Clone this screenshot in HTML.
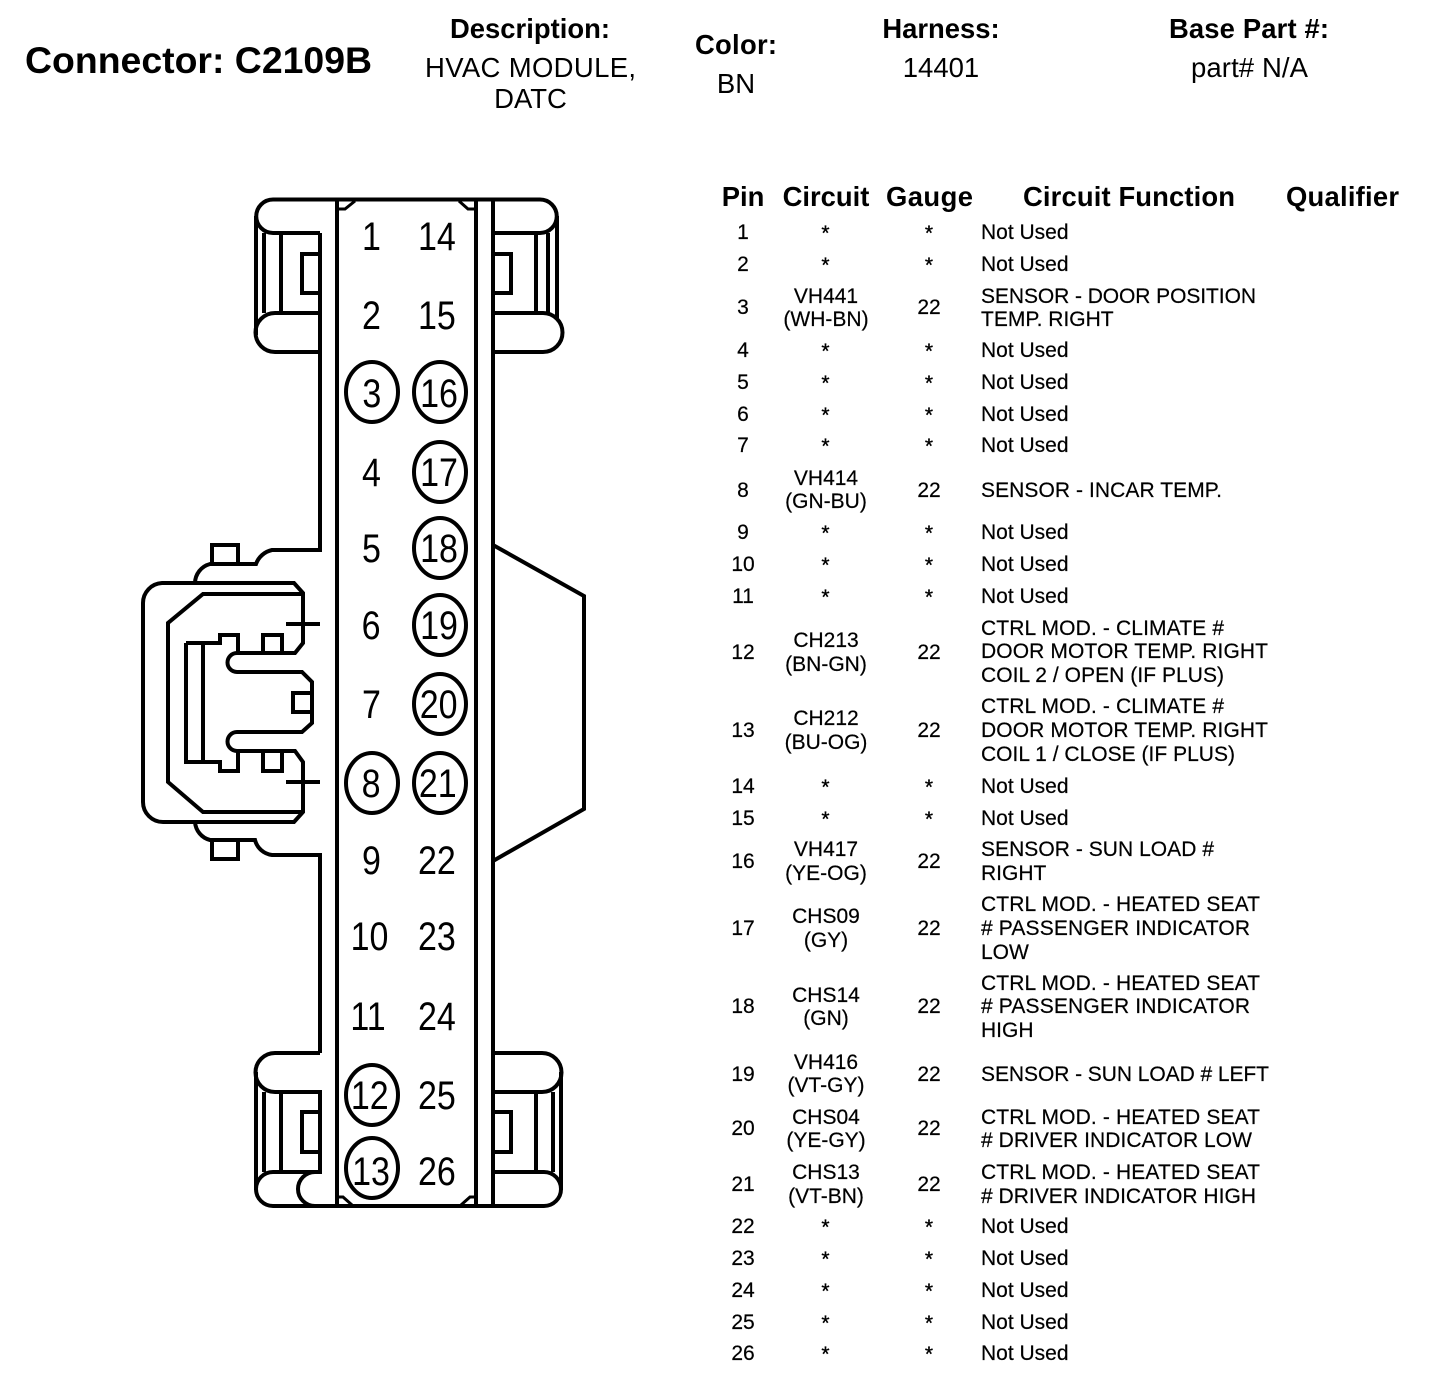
<!DOCTYPE html>
<html lang="en"><head><meta charset="utf-8"><title>Connector C2109B</title>
<style>
html,body{margin:0;padding:0;background:#fff}
svg{display:block}
text{font-family:"Liberation Sans",sans-serif;fill:#000}
.b{font-weight:bold;font-size:27.4px}
.t{font-size:27.5px}
.c{text-anchor:middle}
.r{font-size:21px;stroke:#000;stroke-width:.2}
.a{font-size:21px;text-anchor:middle;stroke:#000;stroke-width:.3}
.d{font-size:40px;text-anchor:middle}
.l{fill:none;stroke:#000;stroke-width:4}
.f{fill:#fff;stroke:#000;stroke-width:4}
</style></head><body>
<svg xmlns="http://www.w3.org/2000/svg" width="1440" height="1384" viewBox="0 0 1440 1384">
<rect width="1440" height="1384" fill="#fff"/>
<text x="25" y="73" font-weight="bold" font-size="37.4" textLength="347">Connector: C2109B</text>
<text x="530" y="38" class="b c" textLength="160">Description:</text>
<text x="530.5" y="77" class="t c" textLength="211">HVAC MODULE,</text>
<text x="530.5" y="108" class="t c">DATC</text>
<text x="736" y="54" class="b c" textLength="82">Color:</text>
<text x="736" y="93" class="t c">BN</text>
<text x="941" y="38" class="b c">Harness:</text>
<text x="941" y="77" class="t c">14401</text>
<text x="1249" y="38" class="b c" textLength="160">Base Part #:</text>
<text x="1249.5" y="77" class="t c" textLength="117">part# N/A</text>

<g>
<path class="l" d="M273 199.5H540A16.75 16.75 0 0 1 540 233H493"/>
<path class="l" d="M320 233H273A16.75 16.75 0 0 1 273 199.5"/>
<path class="l" d="M256 216V335M264 233V313M281 233V313"/>
<path class="l" d="M320 313H275A19.5 19.5 0 0 0 275 352H320"/>
<path class="l" d="M320 254H302V293H320"/>
<path class="l" d="M320 233V550H272A22 22 0 0 0 256 564H210A20 20 0 0 0 195 583"/>
<path class="l" d="M212 564V545H238V564"/>
<path class="l" d="M320 1053V855H272A20 20 0 0 1 255 840H210A20 20 0 0 1 195 822"/>
<path class="l" d="M212 840V859H238V840"/>
<path class="l" d="M162 583H294L303 593V643L295 653H237A9.5 9.5 0 0 0 237 672H302L312 682V723L302 732H237A9.5 9.5 0 0 0 237 751H295L303 762V812L294 822H163A20 20 0 0 1 143 802V603A20 20 0 0 1 162 583Z"/>
<path class="l" d="M303 594H203L168 623V782L203 812H303"/>
<path class="l" d="M186 643H220V635H238V652M186 643V762H220V771H238V751M203 643V762"/>
<path class="l" d="M263 652V635H282V652M263 751V771H282V751"/>
<path class="l" d="M311 693H293V712H311"/>
<path class="l" d="M286 624H320M286 782H320"/>
<path class="l" d="M337 199V1206M476 199V1206M493 199V1206"/>
<path class="l" d="M493 313H543A19.5 19.5 0 0 1 543 352H493"/>
<path class="l" d="M557 216V318M536 233V313M548 233V313"/>
<path class="l" d="M493 254H511V293H493"/>
<path class="l" d="M493 545L584 596V809L493 861"/>
<path class="l" d="M320 1053H275A19.5 19.5 0 0 0 275 1092H320V1172H273A17 17 0 0 0 273 1206H544A17 17 0 0 0 544 1172H493"/>
<path class="l" d="M256 1072V1190M264 1092V1172M281 1092V1172"/>
<path class="l" d="M320 1112H302V1152H320"/>
<path class="l" d="M315 1172A17 17 0 0 0 315 1206"/>
<path class="l" d="M493 1053H542A19.5 19.5 0 0 1 542 1092H493"/>
<path class="l" d="M561 1072V1190M536 1092V1172M553 1092V1172"/>
<path class="l" d="M493 1112H511V1152H493"/>
<path class="l" style="stroke-width:3" d="M337 209H345L355 201M476 209H468L459 201M337 1197H343L352 1205M476 1197H470L461 1205"/>
</g>

<ellipse class="f" cx="372" cy="392" rx="26" ry="30"/>
<ellipse class="f" cx="440" cy="392" rx="26" ry="30"/>
<ellipse class="f" cx="440" cy="472" rx="26" ry="30"/>
<ellipse class="f" cx="440" cy="548" rx="26" ry="30"/>
<ellipse class="f" cx="440" cy="625" rx="26" ry="30"/>
<ellipse class="f" cx="440" cy="704" rx="26" ry="30"/>
<ellipse class="f" cx="440" cy="783" rx="26" ry="30"/>
<ellipse class="f" cx="372" cy="783" rx="26" ry="30"/>
<ellipse class="f" cx="372" cy="1095" rx="26" ry="30"/>
<ellipse class="f" cx="372" cy="1168" rx="26" ry="30"/>

<g transform="scale(.85 1)">
<text class="d" x="437" y="250">1</text>
<text class="d" x="437" y="329">2</text>
<text class="d" x="437.5" y="407">3</text>
<text class="d" x="437" y="486">4</text>
<text class="d" x="437" y="562">5</text>
<text class="d" x="436.5" y="639">6</text>
<text class="d" x="437" y="718">7</text>
<text class="d" x="436.5" y="797">8</text>
<text class="d" x="437" y="874">9</text>
<text class="d" x="434.7" y="950">10</text>
<text class="d" x="433" y="1030">11</text>
<text class="d" x="435" y="1109">12</text>
<text class="d" x="436.5" y="1185">13</text>
<text class="d" x="514" y="250">14</text>
<text class="d" x="514" y="329">15</text>
<text class="d" x="516.5" y="407">16</text>
<text class="d" x="516.5" y="486">17</text>
<text class="d" x="516.5" y="562">18</text>
<text class="d" x="516.5" y="639">19</text>
<text class="d" x="516" y="718">20</text>
<text class="d" x="515" y="797">21</text>
<text class="d" x="514" y="874">22</text>
<text class="d" x="514" y="950">23</text>
<text class="d" x="514" y="1030">24</text>
<text class="d" x="514" y="1109">25</text>
<text class="d" x="514" y="1185">26</text>
</g>

<text x="743" y="206" class="b c">Pin</text>
<text x="826" y="206" class="b c">Circuit</text>
<text x="929.5" y="206" class="b c" textLength="87">Gauge</text>
<text x="1129" y="206" class="b c" textLength="212">Circuit Function</text>
<text x="1342.5" y="206" class="b c" textLength="113">Qualifier</text>

<g>
<text class="r c" x="743" y="239">1</text><text class="a" x="825.5" y="240">*</text><text class="a" x="929" y="240">*</text><text class="r" x="981" y="239">Not Used</text>
<text class="r c" x="743" y="271">2</text><text class="a" x="825.5" y="272">*</text><text class="a" x="929" y="272">*</text><text class="r" x="981" y="271">Not Used</text>
<text class="r c" x="743" y="314">3</text><text class="r c" x="826" y="303">VH441</text><text class="r c" x="826" y="326">(WH-BN)</text><text class="r c" x="929" y="314">22</text><text class="r" x="981" y="303" textLength="275">SENSOR - DOOR POSITION</text><text class="r" x="981" y="326">TEMP. RIGHT</text>
<text class="r c" x="743" y="357">4</text><text class="a" x="825.5" y="358">*</text><text class="a" x="929" y="358">*</text><text class="r" x="981" y="357">Not Used</text>
<text class="r c" x="743" y="389">5</text><text class="a" x="825.5" y="390">*</text><text class="a" x="929" y="390">*</text><text class="r" x="981" y="389">Not Used</text>
<text class="r c" x="743" y="421">6</text><text class="a" x="825.5" y="422">*</text><text class="a" x="929" y="422">*</text><text class="r" x="981" y="421">Not Used</text>
<text class="r c" x="743" y="452">7</text><text class="a" x="825.5" y="453">*</text><text class="a" x="929" y="453">*</text><text class="r" x="981" y="452">Not Used</text>
<text class="r c" x="743" y="497">8</text><text class="r c" x="826" y="485">VH414</text><text class="r c" x="826" y="508">(GN-BU)</text><text class="r c" x="929" y="497">22</text><text class="r" x="981" y="497" textLength="241">SENSOR - INCAR TEMP.</text>
<text class="r c" x="743" y="539">9</text><text class="a" x="825.5" y="540">*</text><text class="a" x="929" y="540">*</text><text class="r" x="981" y="539">Not Used</text>
<text class="r c" x="743" y="571">10</text><text class="a" x="825.5" y="572">*</text><text class="a" x="929" y="572">*</text><text class="r" x="981" y="571">Not Used</text>
<text class="r c" x="743" y="603">11</text><text class="a" x="825.5" y="604">*</text><text class="a" x="929" y="604">*</text><text class="r" x="981" y="603">Not Used</text>
<text class="r c" x="743" y="659">12</text><text class="r c" x="826" y="647">CH213</text><text class="r c" x="826" y="671">(BN-GN)</text><text class="r c" x="929" y="659">22</text><text class="r" x="981" y="635" textLength="243">CTRL MOD. - CLIMATE #</text><text class="r" x="981" y="658" textLength="287">DOOR MOTOR TEMP. RIGHT</text><text class="r" x="981" y="682" textLength="243">COIL 2 / OPEN (IF PLUS)</text>
<text class="r c" x="743" y="737">13</text><text class="r c" x="826" y="725">CH212</text><text class="r c" x="826" y="749">(BU-OG)</text><text class="r c" x="929" y="737">22</text><text class="r" x="981" y="713" textLength="243">CTRL MOD. - CLIMATE #</text><text class="r" x="981" y="737" textLength="287">DOOR MOTOR TEMP. RIGHT</text><text class="r" x="981" y="761" textLength="254">COIL 1 / CLOSE (IF PLUS)</text>
<text class="r c" x="743" y="793">14</text><text class="a" x="825.5" y="794">*</text><text class="a" x="929" y="794">*</text><text class="r" x="981" y="793">Not Used</text>
<text class="r c" x="743" y="825">15</text><text class="a" x="825.5" y="826">*</text><text class="a" x="929" y="826">*</text><text class="r" x="981" y="825">Not Used</text>
<text class="r c" x="743" y="868">16</text><text class="r c" x="826" y="856">VH417</text><text class="r c" x="826" y="880">(YE-OG)</text><text class="r c" x="929" y="868">22</text><text class="r" x="981" y="856" textLength="233">SENSOR - SUN LOAD #</text><text class="r" x="981" y="880">RIGHT</text>
<text class="r c" x="743" y="935">17</text><text class="r c" x="826" y="923">CHS09</text><text class="r c" x="826" y="947">(GY)</text><text class="r c" x="929" y="935">22</text><text class="r" x="981" y="911" textLength="279">CTRL MOD. - HEATED SEAT</text><text class="r" x="981" y="935" textLength="269"># PASSENGER INDICATOR</text><text class="r" x="981" y="959">LOW</text>
<text class="r c" x="743" y="1013">18</text><text class="r c" x="826" y="1002">CHS14</text><text class="r c" x="826" y="1025">(GN)</text><text class="r c" x="929" y="1013">22</text><text class="r" x="981" y="990" textLength="279">CTRL MOD. - HEATED SEAT</text><text class="r" x="981" y="1013" textLength="269"># PASSENGER INDICATOR</text><text class="r" x="981" y="1037">HIGH</text>
<text class="r c" x="743" y="1081">19</text><text class="r c" x="826" y="1069">VH416</text><text class="r c" x="826" y="1092">(VT-GY)</text><text class="r c" x="929" y="1081">22</text><text class="r" x="981" y="1081" textLength="288">SENSOR - SUN LOAD # LEFT</text>
<text class="r c" x="743" y="1135">20</text><text class="r c" x="826" y="1124">CHS04</text><text class="r c" x="826" y="1147">(YE-GY)</text><text class="r c" x="929" y="1135">22</text><text class="r" x="981" y="1124" textLength="279">CTRL MOD. - HEATED SEAT</text><text class="r" x="981" y="1147" textLength="271"># DRIVER INDICATOR LOW</text>
<text class="r c" x="743" y="1191">21</text><text class="r c" x="826" y="1179">CHS13</text><text class="r c" x="826" y="1203">(VT-BN)</text><text class="r c" x="929" y="1191">22</text><text class="r" x="981" y="1179" textLength="279">CTRL MOD. - HEATED SEAT</text><text class="r" x="981" y="1203" textLength="275"># DRIVER INDICATOR HIGH</text>
<text class="r c" x="743" y="1233">22</text><text class="a" x="825.5" y="1234">*</text><text class="a" x="929" y="1234">*</text><text class="r" x="981" y="1233">Not Used</text>
<text class="r c" x="743" y="1265">23</text><text class="a" x="825.5" y="1266">*</text><text class="a" x="929" y="1266">*</text><text class="r" x="981" y="1265">Not Used</text>
<text class="r c" x="743" y="1297">24</text><text class="a" x="825.5" y="1298">*</text><text class="a" x="929" y="1298">*</text><text class="r" x="981" y="1297">Not Used</text>
<text class="r c" x="743" y="1329">25</text><text class="a" x="825.5" y="1330">*</text><text class="a" x="929" y="1330">*</text><text class="r" x="981" y="1329">Not Used</text>
<text class="r c" x="743" y="1360">26</text><text class="a" x="825.5" y="1361">*</text><text class="a" x="929" y="1361">*</text><text class="r" x="981" y="1360">Not Used</text>
</g>
</svg>
</body></html>
